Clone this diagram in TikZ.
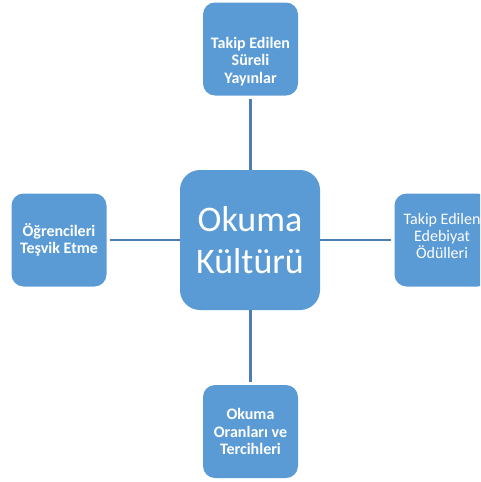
\documentclass[tikz,border=0pt]{standalone}
\usepackage{fontspec}
\setmainfont{Carlito}
\usepackage{tikz}
\usetikzlibrary{positioning, calc}
\definecolor{BoxBlue}{HTML}{5B9BD5}
\definecolor{LinkBlue}{HTML}{4A7EB4}

\tikzset{
    hubbox/.style={rectangle, rounded corners=20pt, fill=BoxBlue,
        minimum width=140pt, minimum height=140pt, text=white,
        align=center, font=\fontsize{36}{42}\selectfont},
    leafbox/.style={rectangle, rounded corners=12pt, fill=BoxBlue,
        minimum width=95pt, minimum height=93pt, text=white,
        align=center, font=\fontsize{16}{17.3}\selectfont},
    link/.style={draw=LinkBlue, line width=2.5pt, shorten <=3pt}
}

\begin{document}
\begin{tikzpicture}[x=1pt, y=-1pt]
    \useasboundingbox (0,0) rectangle (480,482);
    \clip (0,0) rectangle (480,482);

    % Central topic
    \node[hubbox] (kultur) at (250,240) {Okuma\\Kültürü};

    % Four branches around it
    \node[leafbox, text height=71pt] (sureli) at (250.5,49) {\textbf{Takip Edilen}\\\textbf{Süreli}\\\textbf{Yayınlar}};
    \node[leafbox, text depth=8pt] (odul) at (442,240) {Takip Edilen\\Edebiyat\\Ödülleri};
    \node[leafbox] (tesvik) at (59,240) {\textbf{Öğrencileri}\\\textbf{Teşvik Etme}};
    \node[leafbox] (oran) at (250.5,431.5) {\textbf{Okuma}\\\textbf{Oranları ve}\\\textbf{Tercihleri}};

    % Connectors
    \draw[link] (sureli.south) -- (sureli.south |- kultur.north);
    \draw[link] (odul.west) -- (kultur.east);
    \draw[link] (tesvik.east) -- (kultur.west);
    \draw[link] (oran.north) -- (oran.north |- kultur.south);
\end{tikzpicture}
\end{document}
